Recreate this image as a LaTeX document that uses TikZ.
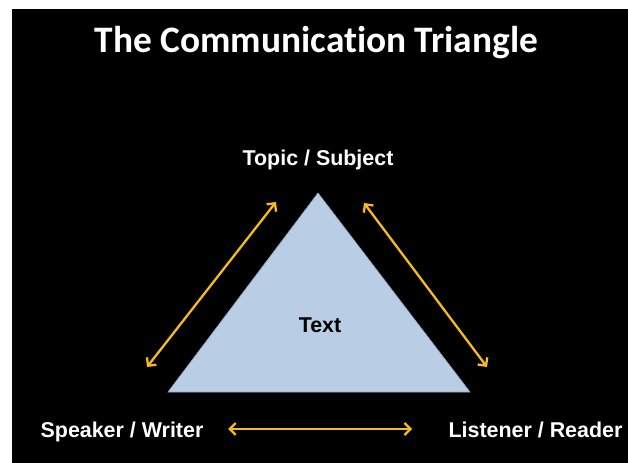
\documentclass[tikz,border=0pt]{standalone}
\usepackage{fontspec}
\setmainfont{Liberation Sans}
\newfontfamily\titlefont[Ligatures=CommonOff]{Carlito}
\usetikzlibrary{arrows.meta}

\definecolor{slideblue}{HTML}{B9CDE5}
\definecolor{slideedge}{HTML}{8EA7C6}
\definecolor{arrowgold}{HTML}{F4BC1C}

\begin{document}
\begin{tikzpicture}[x=1bp,y=-1bp,
	corner/.style={anchor=base,inner sep=0pt,text=white,font=\bfseries\fontsize{21.5}{24}\selectfont},
	link/.style={arrowgold,line width=2.3bp,
		{Straight Barb[length=6bp,width=12bp,line width=2.3bp]}-{Straight Barb[length=6bp,width=12bp,line width=2.3bp]}}]
	\useasboundingbox[fill=white] (0,0) rectangle (628,463);
	\fill[black] (12,9) rectangle (628,463);
	\node[anchor=base,inner sep=0pt,text=white,font=\titlefont\bfseries\fontsize{37.5}{42}\selectfont] (title) at (316.5,53) {The Communication Triangle};
	% triangle
	\coordinate (apex) at (318,193);
	\coordinate (bl) at (168,392);
	\coordinate (br) at (470,392);
	\filldraw[fill=slideblue,draw=slideedge,line width=0.6bp] (apex) -- (bl) -- (br) -- cycle;
	\node[anchor=base,inner sep=0pt,font=\bfseries\fontsize{21.5}{24}\selectfont] (txt) at (320,332) {Text};
	% corners
	\node[corner] (topic) at (318,166) {Topic / Subject};
	\node[corner] (speaker) at (122,437) {Speaker / Writer};
	\node[corner] (listener) at (535.5,437) {Listener / Reader};
	% arrows
	\coordinate (la) at (147,367);
	\coordinate (lb) at (276,202);
	\coordinate (ra) at (364,203);
	\coordinate (rb) at (487,367);
	\coordinate (ba) at (228,429);
	\coordinate (bb) at (412,429);
	\draw[link] (la) -- (lb);
	\draw[link] (ra) -- (rb);
	\draw[link] (ba) -- (bb);
\end{tikzpicture}
\end{document}
